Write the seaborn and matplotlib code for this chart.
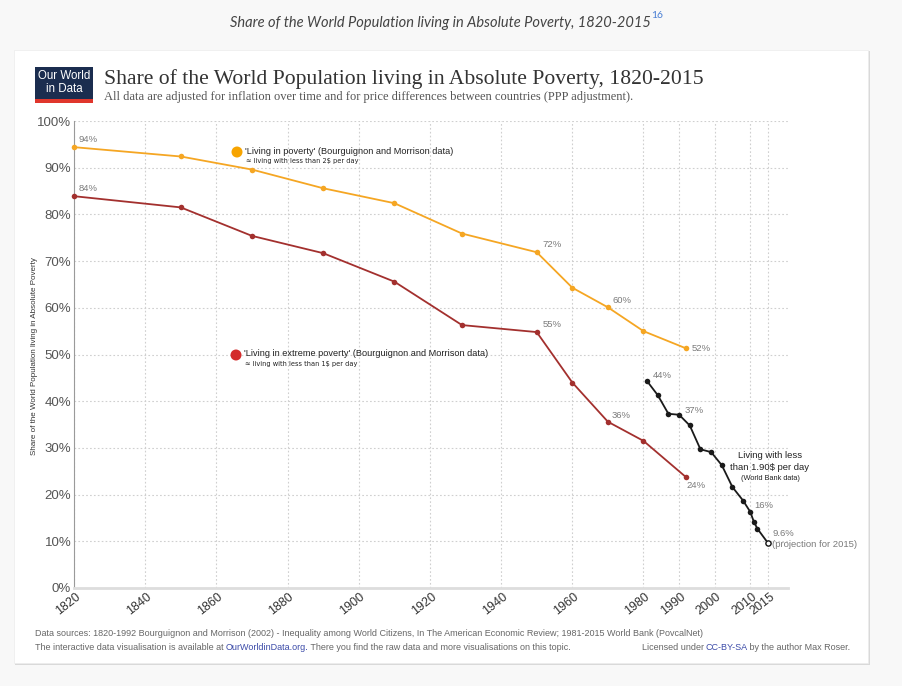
import matplotlib
matplotlib.use("Agg")
import matplotlib.pyplot as plt
import matplotlib.patches as mpatches
from matplotlib.transforms import ScaledTranslation
import seaborn as sns
import pandas as pd

# ---------------- data ----------------
bm_years = [1820, 1850, 1870, 1890, 1910, 1929, 1950, 1960, 1970, 1980, 1992]
poverty_2 = [94.4, 92.4, 89.6, 85.6, 82.4, 75.9, 71.9, 64.3, 60.1, 55.0, 51.3]
extreme_1 = [83.9, 81.5, 75.4, 71.7, 65.6, 56.3, 54.8, 44.0, 35.6, 31.5, 23.7]

wb_years = [1981, 1984, 1987, 1990, 1993, 1996, 1999, 2002, 2005, 2008, 2010, 2011, 2012, 2015]
wb_190 = [44.3, 41.3, 37.3, 37.1, 34.8, 29.7, 29.1, 26.3, 21.6, 18.7, 16.3, 14.2, 12.7, 9.6]

x_ticks = [1820, 1840, 1860, 1880, 1900, 1920, 1940, 1960, 1980, 1990, 2000, 2010, 2015]
y_ticks = [0, 10, 20, 30, 40, 50, 60, 70, 80, 90, 100]
y_labels = [f"{v}%" for v in y_ticks]

ORANGE = "#f5a623"
DARKRED = "#a3302e"
RED_DOT = "#d32b2b"
BLACK = "#1a1a1a"
GRAY_TXT = "#7a7a7a"

W, H = 902, 686
sns.set_style("white")
plt.rcParams["font.family"] = ["Liberation Sans", "DejaVu Sans"]

fig = plt.figure(figsize=(W / 100, H / 100), dpi=100)
fig.patch.set_facecolor("#f8f8f8")


def fx(x):
    return x / W


def fy(y):
    return 1 - y / H


# card with shadow
fig.patches.append(mpatches.Rectangle((fx(15), fy(665)), fx(855), 614 / H,
                                      transform=fig.transFigure, facecolor="#d9d9d9",
                                      edgecolor="none", zorder=-3))
fig.patches.append(mpatches.Rectangle((fx(14), fy(663)), fx(854), 613 / H,
                                      transform=fig.transFigure, facecolor="white",
                                      edgecolor="#ececec", lw=0.5, zorder=-2))

# caption above card
cap = fig.text(fx(440), fy(23), "Share of the World Population living in Absolute Poverty, 1820-2015",
               ha="center", va="center", fontsize=10.5, style="italic", color="#444444",
               family=["Lato", "DejaVu Sans"])
fig.canvas.draw()
r = fig.canvas.get_renderer()
bb = cap.get_window_extent(r)
fig.text(bb.x1 / W + 0.001, fy(16), "16", ha="left", va="center", fontsize=7.5,
         color="#4a7fd4", family=["Lato", "DejaVu Sans"])

# logo
fig.patches.append(mpatches.Rectangle((fx(35), fy(103)), fx(58), 36 / H,
                                      transform=fig.transFigure, facecolor="#1b2d4f",
                                      edgecolor="none", zorder=1))
fig.patches.append(mpatches.Rectangle((fx(35), fy(103)), fx(58), 4 / H,
                                      transform=fig.transFigure, facecolor="#e0362c",
                                      edgecolor="none", zorder=2))
fig.text(fx(64), fy(76), "Our World", ha="center", va="center", fontsize=8.3, color="white",
         family=["Liberation Sans Narrow", "Liberation Sans"], zorder=3)
fig.text(fx(64), fy(89), "in Data", ha="center", va="center", fontsize=8.3, color="white",
         family=["Liberation Sans Narrow", "Liberation Sans"], zorder=3)

# title and subtitle
fig.text(fx(104), fy(79), "Share of the World Population living in Absolute Poverty, 1820-2015",
         ha="left", va="center", fontsize=15.6, color="#333333",
         family=["Liberation Serif", "DejaVu Serif"])
fig.text(fx(104), fy(97),
         "All data are adjusted for inflation over time and for price differences between countries (PPP adjustment).",
         ha="left", va="center", fontsize=9.0, color="#555555",
         family=["Liberation Serif", "DejaVu Serif"])

# ---------------- axes ----------------
ax = fig.add_axes([fx(74), fy(588), (788 - 74) / W, (588 - 121) / H])
ax.set_facecolor("white")

df_bm = pd.DataFrame({"year": bm_years, "poverty": poverty_2, "extreme": extreme_1})
df_wb = pd.DataFrame({"year": wb_years, "value": wb_190})

sns.lineplot(data=df_bm, x="year", y="poverty", ax=ax, color=ORANGE, lw=1.3,
             marker="o", markersize=4, markeredgewidth=0, zorder=3)
sns.lineplot(data=df_bm, x="year", y="extreme", ax=ax, color=DARKRED, lw=1.3,
             marker="o", markersize=4, markeredgewidth=0, zorder=3)
sns.lineplot(data=df_wb, x="year", y="value", ax=ax, color=BLACK, lw=1.3,
             marker="o", markersize=4, markeredgewidth=0, zorder=3)
sns.scatterplot(x=[wb_years[-1]], y=[wb_190[-1]], ax=ax, s=14, color="white",
                edgecolor=BLACK, linewidth=1.0, zorder=4)
for ln in ax.lines:
    ln.set_clip_on(False)
for coll in ax.collections:
    coll.set_clip_on(False)

ax.set_xlim(1820, 2020.6)
ax.set_ylim(0, 100)
ax.set_xticks(x_ticks)
ax.set_xticklabels([str(t) for t in x_ticks], rotation=38, fontsize=9, color="#333333")
ax.set_yticks(y_ticks)
ax.set_yticklabels(y_labels, fontsize=9.5, color="#555555")
ax.tick_params(axis="both", length=0, pad=2)
off = ScaledTranslation(-6 / 100, 0, fig.dpi_scale_trans)
for lbl in ax.get_xticklabels():
    lbl.set_ha("center")
    lbl.set_transform(lbl.get_transform() + off)
ax.set_xlabel("")
ax.set_ylabel("")
ax.grid(True, linestyle=(0, (1.5, 2)), color="#cfcfcf", lw=0.8)
for s in ["top", "right"]:
    ax.spines[s].set_visible(False)
ax.spines["left"].set_color("#9a9a9a")
ax.spines["left"].set_linewidth(0.8)
ax.spines["bottom"].set_color("#dddddd")
ax.spines["bottom"].set_linewidth(2)

fig.text(fx(35), fy(356), "Share of the World Population living in Absolute Poverty",
         rotation=90, ha="center", va="center", fontsize=5.8, color="#333333")

# value labels
lab = dict(fontsize=6.8, color=GRAY_TXT, textcoords="offset points")
ax.annotate("94%", (bm_years[0], poverty_2[0]), xytext=(3, 2), ha="left", va="bottom", **lab)
ax.annotate("84%", (bm_years[0], extreme_1[0]), xytext=(3, 2), ha="left", va="bottom", **lab)
ax.annotate("72%", (bm_years[6], poverty_2[6]), xytext=(4, 2), ha="left", va="bottom", **lab)
ax.annotate("60%", (bm_years[8], poverty_2[8]), xytext=(3, 2), ha="left", va="bottom", **lab)
ax.annotate("52%", (bm_years[10], poverty_2[10]), xytext=(4, 0), ha="left", va="center", **lab)
ax.annotate("55%", (bm_years[6], extreme_1[6]), xytext=(4, 2), ha="left", va="bottom", **lab)
ax.annotate("36%", (bm_years[8], extreme_1[8]), xytext=(3, 1), ha="left", va="bottom", **lab)
ax.annotate("24%", (bm_years[10], extreme_1[10]), xytext=(0, -3), ha="left", va="top", **lab)
ax.annotate("44%", (wb_years[0], wb_190[0]), xytext=(4, 1), ha="left", va="bottom", **lab)
ax.annotate("37%", (wb_years[3], wb_190[3]), xytext=(4, 0), ha="left", va="bottom", **lab)
ax.annotate("16%", (wb_years[10], wb_190[10]), xytext=(3, 1), ha="left", va="bottom", **lab)
ax.annotate("9.6%", (wb_years[-1], wb_190[-1]), xytext=(3, 4), ha="left", va="bottom", **lab)
ax.annotate("(projection for 2015)", (wb_years[-1], wb_190[-1]), xytext=(2.5, -1),
            ha="left", va="center", **lab)

# inline legends
fig.patches.append(mpatches.Ellipse((fx(237), fy(152)), 11 / W, 11 / H, transform=fig.transFigure,
                                    facecolor="#f7a400", edgecolor="none", zorder=5))
fig.text(fx(245), fy(151), "'Living in poverty' (Bourguignon and Morrison data)",
         ha="left", va="center", fontsize=6.6, color="#222222", parse_math=False)
fig.text(fx(246), fy(161), "≈ living with less than 2$ per day",
         ha="left", va="center", fontsize=4.8, color="#222222", parse_math=False,
         family=["DejaVu Sans"])
fig.patches.append(mpatches.Ellipse((fx(236), fy(355)), 11 / W, 11 / H, transform=fig.transFigure,
                                    facecolor=RED_DOT, edgecolor="none", zorder=5))
fig.text(fx(244), fy(354), "'Living in extreme poverty' (Bourguignon and Morrison data)",
         ha="left", va="center", fontsize=6.6, color="#222222", parse_math=False)
fig.text(fx(245), fy(364), "≈ living with less than 1$ per day",
         ha="left", va="center", fontsize=4.8, color="#222222", parse_math=False,
         family=["DejaVu Sans"])

fig.text(fx(770), fy(456), "Living with less", ha="center", va="center", fontsize=6.8,
         color="#222222")
fig.text(fx(770), fy(468), "than 1.90$ per day", ha="center", va="center", fontsize=6.8,
         color="#222222", parse_math=False)
fig.text(fx(770), fy(478), "(World Bank data)", ha="center", va="center", fontsize=5.3,
         color="#222222")

# footer
FS = 6.5


def seq(x0, y, parts, size=FS):
    x = x0
    for txt, col in parts:
        t = fig.text(x / W, fy(y), txt, ha="left", va="center", fontsize=size, color=col)
        x = t.get_window_extent(r).x1 - 0.5
    return x


seq(35, 633, [("Data sources: 1820-1992 Bourguignon and Morrison (2002) - Inequality among World Citizens, "
               "In The American Economic Review; 1981-2015 World Bank (PovcalNet)", "#666666")])
seq(35, 647, [("The interactive data visualisation is available at ", "#666666"),
              ("OurWorldinData.org.", "#3b4aa8"),
              (" There you find the raw data and more visualisations on this topic.", "#666666")])
# right-aligned license text
parts = [("Licensed under ", "#666666"), ("CC-BY-SA", "#3b4aa8"), (" by the author Max Roser.", "#666666")]
widths = []
for txt, col in parts:
    t = fig.text(0, 0, txt, fontsize=FS)
    widths.append(t.get_window_extent(r).width - 0.5)
    t.remove()
seq(850 - sum(widths), 647, parts)

fig.savefig("out.png", dpi=100, facecolor=fig.get_facecolor())
